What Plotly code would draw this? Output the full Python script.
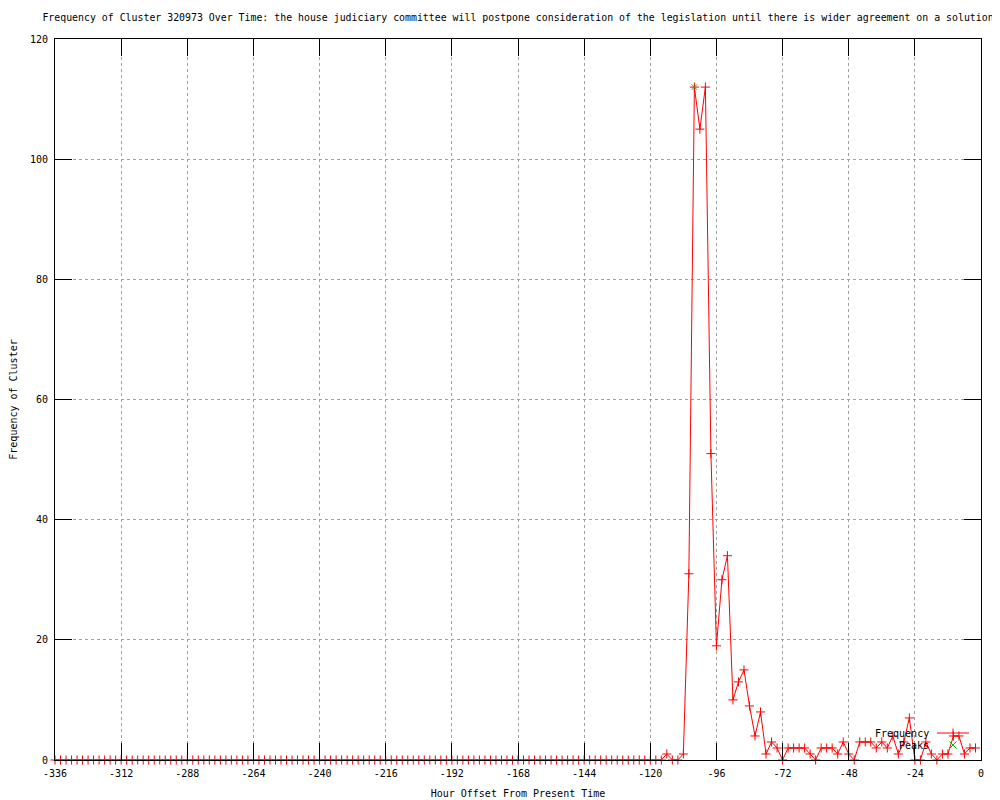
import plotly.graph_objects as go

# ---- data ----
hours = [
    -336, -334, -332, -330, -328, -326, -324, -322, -320, -318, -316, -314,
    -312, -310, -308, -306, -304, -302, -300, -298, -296, -294, -292, -290,
    -288, -286, -284, -282, -280, -278, -276, -274, -272, -270, -268, -266,
    -264, -262, -260, -258, -256, -254, -252, -250, -248, -246, -244, -242,
    -240, -238, -236, -234, -232, -230, -228, -226, -224, -222, -220, -218,
    -216, -214, -212, -210, -208, -206, -204, -202, -200, -198, -196, -194,
    -192, -190, -188, -186, -184, -182, -180, -178, -176, -174, -172, -170,
    -168, -166, -164, -162, -160, -158, -156, -154, -152, -150, -148, -146,
    -144, -142, -140, -138, -136, -134, -132, -130, -128, -126, -124, -122,
    -120, -118, -116, -114, -112, -110, -108, -106, -104, -102, -100, -98,
    -96, -94, -92, -90, -88, -86, -84, -82, -80, -78, -76, -74,
    -72, -70, -68, -66, -64, -62, -60, -58, -56, -54, -52, -50,
    -48, -46, -44, -42, -40, -38, -36, -34, -32, -30, -28, -26,
    -24, -22, -20, -18, -16, -14, -12, -10, -8, -6, -4, -2,
]
frequency = [
    0, 0, 0, 0, 0, 0, 0, 0, 0, 0, 0, 0,
    0, 0, 0, 0, 0, 0, 0, 0, 0, 0, 0, 0,
    0, 0, 0, 0, 0, 0, 0, 0, 0, 0, 0, 0,
    0, 0, 0, 0, 0, 0, 0, 0, 0, 0, 0, 0,
    0, 0, 0, 0, 0, 0, 0, 0, 0, 0, 0, 0,
    0, 0, 0, 0, 0, 0, 0, 0, 0, 0, 0, 0,
    0, 0, 0, 0, 0, 0, 0, 0, 0, 0, 0, 0,
    0, 0, 0, 0, 0, 0, 0, 0, 0, 0, 0, 0,
    0, 0, 0, 0, 0, 0, 0, 0, 0, 0, 0, 0,
    0, 0, 0, 1, 0, 0, 1, 31, 112, 105, 112, 51,
    19, 30, 34, 10, 13, 15, 9, 4, 8, 1, 3, 2,
    0, 2, 2, 2, 2, 1, 0, 2, 2, 2, 1, 3,
    1, 0, 3, 3, 3, 2, 3, 2, 4, 1, 3, 7,
    0, 0, 3, 1, 0, 1, 1, 4, 4, 1, 2, 2,
]
peak_hours = [-104]
peak_values = [112]

x_ticks = [-336, -312, -288, -264, -240, -216, -192, -168, -144, -120, -96, -72, -48, -24, 0]
x_tick_text = ["-336", "-312", "-288", "-264", "-240", "-216", "-192", "-168", "-144",
               "-120", "-96", "-72", "-48", "-24", "0"]
y_ticks = [0, 20, 40, 60, 80, 100, 120]

title_text = ("Frequency of Cluster 320973 Over Time: the house judiciary committee will "
              "postpone consideration of the legislation until there is wider agreement on a solution")

FONT = "DejaVu Sans Mono"
RED = "#ff0000"
GREEN = "#00c000"

# The page body has an 8px margin; the figure is sized to fill the rest of the window.
W, H = 992, 792

fig = go.Figure()
fig.add_trace(go.Scatter(
    x=hours, y=frequency, mode="lines+markers", name="Frequency",
    line=dict(color=RED, width=1),
    marker=dict(symbol="cross-thin", size=6.5, line=dict(color=RED, width=1), color=RED),
    cliponaxis=False, showlegend=False,
))
fig.add_trace(go.Scatter(
    x=peak_hours, y=peak_values, mode="markers", name="Peaks",
    marker=dict(symbol="x-thin", size=5.5, line=dict(color=GREEN, width=1), color=GREEN),
    cliponaxis=False, showlegend=False,
))

axis_common = dict(
    showline=True, linecolor="black", linewidth=1, mirror="ticks",
    ticks="inside", ticklen=17, tickcolor="black", tickwidth=1,
    showgrid=True, gridcolor="#a0a0a0", gridwidth=1, griddash="3px,3px",
    zeroline=False, automargin=False,
    tickfont=dict(family=FONT, size=10, color="black"),
)

fig.update_layout(
    template="none",
    width=W, height=H,
    margin=dict(l=47, r=19, t=31, b=40, pad=0),
    paper_bgcolor="white", plot_bgcolor="white",
    title=dict(text=title_text, x=0.5, xref="paper", xanchor="center",
               y=1 - 10 / H, yref="container", yanchor="middle",
               font=dict(family=FONT, size=9.9, color="black")),
    xaxis=dict(range=[-336, 0], tickvals=x_ticks, ticktext=x_tick_text,
               title=dict(text="Hour Offset From Present Time", standoff=11,
                          font=dict(family=FONT, size=10, color="black")),
               ticklabelstandoff=4, **axis_common),
    yaxis=dict(range=[0, 120], tickvals=y_ticks,
               title=dict(text="Frequency of Cluster", standoff=14,
                          font=dict(family=FONT, size=10, color="black")),
               ticklabelstandoff=4, **axis_common),
    showlegend=False,
)

# ---- gnuplot-style key (text left of the sample), bottom right ----
def px_x(px):
    return (px - 55) / 926.0

def px_y(py):
    return (760 - py) / 721.0

key_rows = [("Frequency", 733), ("Peaks", 745)]
for label, py in key_rows:
    fig.add_annotation(text=label, x=px_x(931), y=px_y(py), xref="paper", yref="paper",
                       xanchor="right", yanchor="middle", showarrow=False,
                       font=dict(family=FONT, size=10, color="black"))

fy = px_y(733)
fig.add_shape(type="line", xref="paper", yref="paper", x0=px_x(937), x1=px_x(969), y0=fy, y1=fy,
              line=dict(color=RED, width=1))
fig.add_shape(type="line", xref="paper", yref="paper", x0=px_x(953), x1=px_x(953),
              y0=px_y(728.5), y1=px_y(737.5), line=dict(color=RED, width=1))
fig.add_shape(type="line", xref="paper", yref="paper", x0=px_x(949.5), x1=px_x(956.5),
              y0=px_y(741.5), y1=px_y(748.5), line=dict(color=GREEN, width=1))
fig.add_shape(type="line", xref="paper", yref="paper", x0=px_x(949.5), x1=px_x(956.5),
              y0=px_y(748.5), y1=px_y(741.5), line=dict(color=GREEN, width=1))

fig.write_html("out.html")
